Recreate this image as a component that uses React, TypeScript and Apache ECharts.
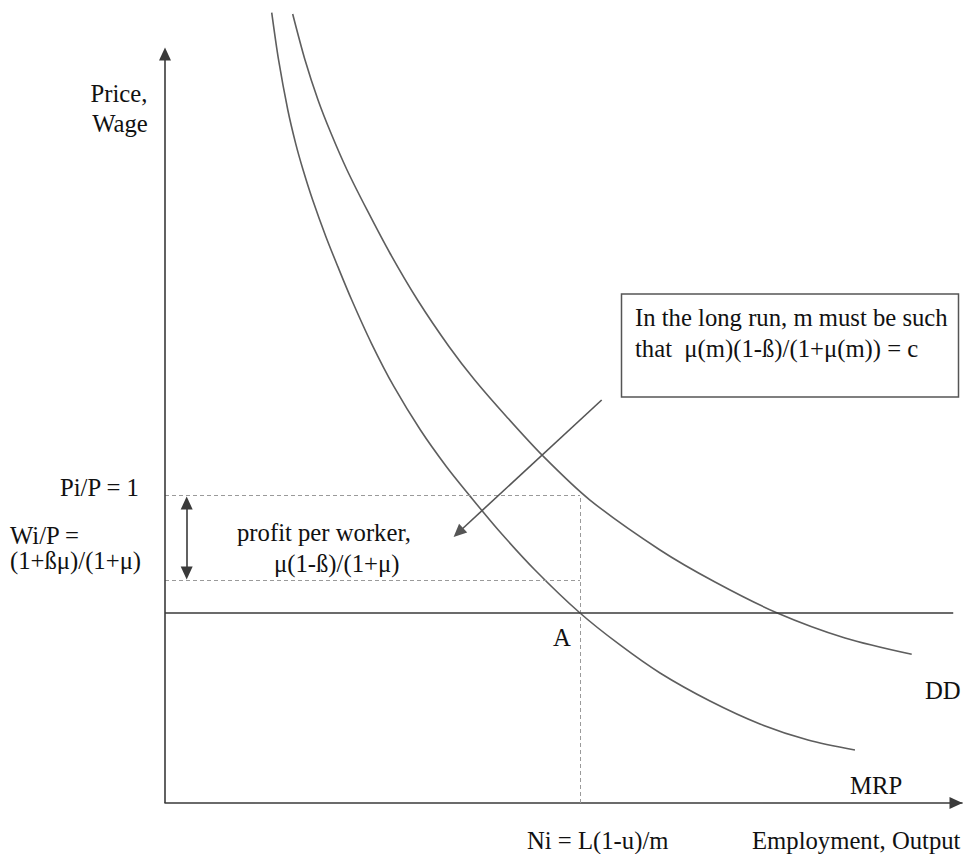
import React, { useEffect, useRef } from "react";
import * as echarts from "echarts";

// Data space: x 0..100 (employment/output), y 0..100 (price/wage)
const mrpCurve: number[][] = [
  [13.39, 98.42], [14.25, 92.53], [15.41, 86.3], [16.39, 82.15], [17.33, 78.83],
  [18.53, 75.09], [20.19, 70.52], [21.69, 66.79], [23.43, 62.64], [25.9, 57.25],
  [28.73, 51.84], [32.05, 46.45], [35.32, 41.88], [38.16, 38.36], [41.82, 34.0],
  [46.42, 29.02], [52.07, 23.66], [57.09, 19.68], [62.11, 16.19], [68.38, 12.7],
  [74.65, 9.84], [80.68, 7.85], [86.57, 6.6],
];
const ddCurve: number[][] = [
  [16.02, 98.26], [17.57, 92.53], [19.2, 87.55], [20.83, 83.4], [22.84, 78.83],
  [25.35, 73.85], [28.23, 68.46], [31.69, 62.64], [35.65, 56.82], [38.86, 52.68],
  [42.86, 48.11], [47.43, 43.21], [53.32, 37.73], [62.11, 31.51], [69.01, 27.52],
  [76.75, 23.7], [85.32, 20.55], [93.69, 18.52],
];
const priceLevel = 38.36; // Pi/P = 1
const wageLevel = 27.77; // Wi/P
const realWageLine = 23.66; // horizontal line through A
const realWageLineEnd = 98.9;
const niX = 52.07; // Ni = L(1-u)/m
const yAxisTop = 93.27;
const profitArrowX = 2.72;
const profitArrowEnds = [37.36, 28.64];
const calloutArrow = [[54.79, 50.19], [36.81, 33.69]];

const FONT = '"Liberation Serif", "Times New Roman", serif';
const FS = 24.7;
const INK = "#111";

function txt(text: string, x: number, y: number, align = "left") {
  return {
    type: "text",
    x,
    y,
    style: {
      text,
      fill: INK,
      fontSize: FS,
      fontFamily: FONT,
      align,
      verticalAlign: "middle",
      textAlign: align,
      textVerticalAlign: "middle",
    },
  };
}

export default function App() {
  const ref = useRef<HTMLDivElement>(null);
  useEffect(() => {
    if (!ref.current) return;
    const chart = echarts.init(ref.current, null, { renderer: "svg" });
    const axisStyle = { color: "#3a3a3a", width: 1.6, type: "solid" };
    const dashStyle = { color: "#9a9a9a", width: 1, type: [4, 3] };
    chart.setOption({
      animation: false,
      backgroundColor: "#fff",
      grid: { left: 165, right: 1, top: 0, bottom: 51 },
      xAxis: {
        type: "value",
        min: 0,
        max: 100,
        axisLine: {
          show: true,
          onZero: false,
          symbol: ["none", "triangle"],
          symbolSize: [12, 13],
          symbolOffset: [0, -6],
          lineStyle: { color: "#3a3a3a", width: 1.6 },
        },
        axisTick: { show: false },
        axisLabel: { show: false },
        splitLine: { show: false },
      },
      yAxis: {
        type: "value",
        min: 0,
        max: 100,
        axisLine: { show: false },
        axisTick: { show: false },
        axisLabel: { show: false },
        splitLine: { show: false },
      },
      series: [
        {
          name: "MRP",
          type: "line",
          data: mrpCurve,
          smooth: 0.3,
          showSymbol: false,
          lineStyle: { color: "#5e5e5e", width: 1.6 },
          silent: true,
          z: 3,
        },
        {
          name: "DD",
          type: "line",
          data: ddCurve,
          smooth: 0.3,
          showSymbol: false,
          lineStyle: { color: "#5e5e5e", width: 1.6 },
          silent: true,
          z: 3,
        },
        {
          name: "guides",
          type: "line",
          data: [],
          silent: true,
          markLine: {
            silent: true,
            animation: false,
            label: { show: false },
            emphasis: { disabled: true },
            symbol: ["none", "none"],
            lineStyle: dashStyle,
            data: [
              [{ coord: [0, priceLevel] }, { coord: [niX, priceLevel] }],
              [{ coord: [0, wageLevel] }, { coord: [niX, wageLevel] }],
              [{ coord: [niX, 0] }, { coord: [niX, priceLevel] }],
              [
                { coord: [0, realWageLine], lineStyle: axisStyle },
                { coord: [realWageLineEnd, realWageLine] },
              ],
            ],
          },
        },
        {
          name: "arrows",
          type: "line",
          data: [],
          silent: true,
          markLine: {
            silent: true,
            animation: false,
            label: { show: false },
            emphasis: { disabled: true },
            symbol: ["none", "triangle"],
            symbolSize: [12, 13],
            lineStyle: axisStyle,
            data: [
              [{ coord: [0, 0] }, { coord: [0, yAxisTop] }],
              [
                { coord: [profitArrowX, profitArrowEnds[0]], symbol: "triangle" },
                { coord: [profitArrowX, profitArrowEnds[1]], symbol: "triangle" },
              ],
              [
                { coord: calloutArrow[0], lineStyle: { color: "#555", width: 1.6, type: "solid" } },
                { coord: calloutArrow[1] },
              ],
            ],
          },
        },
      ],
      graphic: [
        {
          type: "rect",
          shape: { x: 621.5, y: 294, width: 337, height: 103 },
          style: { fill: "#fff", stroke: "#555", lineWidth: 1.5 },
        },
        txt("In the long run, m must be such", 635, 317),
        txt("that \u00a0μ(m)(1-ß)/(1+μ(m)) = c", 635, 348),
        txt("Price,", 119, 93, "center"),
        txt("Wage", 120, 123, "center"),
        txt("Pi/P = 1", 60, 487),
        txt("Wi/P =", 10, 535),
        txt("(1+ßμ)/(1+μ)", 10, 560),
        txt("profit per worker,", 237, 532),
        txt("μ(1-ß)/(1+μ)", 274, 563),
        txt("A", 553, 637),
        txt("DD", 925, 690),
        txt("MRP", 850, 785),
        txt("Ni = L(1-u)/m", 527, 840),
        txt("Employment, Output", 752, 840),
      ],
    });
    return () => chart.dispose();
  }, []);
  return (
    <div
      ref={ref}
      style={{ position: "fixed", left: 0, top: 0, width: 963, height: 854, background: "#fff" }}
    />
  );
}
